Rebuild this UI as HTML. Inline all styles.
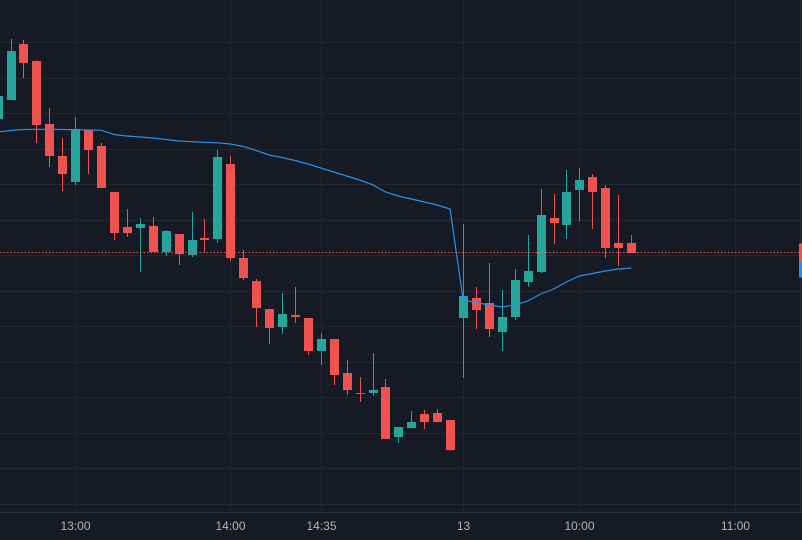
<!DOCTYPE html>
<html><head><meta charset="utf-8"><style>
html,body{margin:0;padding:0;background:#161a25;width:802px;height:540px;overflow:hidden}
svg{display:block}
text{font-family:"Liberation Sans",sans-serif;font-size:12px;fill:#b2b5be}
</style></head><body>
<svg id="chart" width="802" height="540" viewBox="0 0 802 540" xmlns="http://www.w3.org/2000/svg">
<rect x="0" y="0" width="802" height="540" fill="#161a25"/>
<g id="grid"></g>
<g id="candles"></g>
<g id="xaxis"></g>
<g id="ma"></g>
</svg>
<script>
const startIndex = -1;
const opens  = [421,440,496,479,416,384,358,410,394,348,313,312,314,288,306,285,302,301,376,282,259,231,213,225,222,189,201,167,147,147,153,103,112,126,127,120,222,242,237,208,223,258,268,322,315,350,363,352,297,297];
const highs  = [450,501,500,480,432,402,423,410,397,348,331,322,323,310,306,328,321,390,384,290,261,231,247,253,222,207,201,180,163,187,161,103,129,130,131,120,316,253,277,250,271,305,351,346,370,372,366,355,345,305];
const lows   = [421,440,462,397,373,349,355,366,352,300,303,268,288,284,275,283,288,297,279,260,213,196,206,217,185,175,155,145,138,144,101,97,112,111,118,89,162,211,203,189,220,253,267,296,301,319,311,282,274,287];
const closes = [444,489,477,415,384,366,411,390,352,307,307,316,288,309,286,300,300,383,282,262,232,212,226,223,189,201,165,150,146,150,101,113,118,118,118,90,244,230,211,223,260,269,325,317,348,360,348,292,292,287];
const maValues = [408,409.5,410.5,410.7,410.7,410.5,410.3,410,409.8,405.5,404,403,402,400.5,399,398.3,397.7,397.2,396,393.5,389.5,385,382.5,379.5,376,372,368,364,360,355.3,348,344,341,338,335,331,240,237.5,235,233,235,239,246,251,258,264,266.5,269,271,272];
const timeLabels = ["13:00","14:00","14:35","13","10:00","11:00"];
const timeLabelIdx = [5,17,24,35,44,56];

const NS="http://www.w3.org/2000/svg";
const xScale = i => 10.5 + 12.93*i;
const yScale = v => 540 - v;
function mk(tag, attrs, parent){const e=document.createElementNS(NS,tag);for(const k in attrs)e.setAttribute(k,attrs[k]);parent.appendChild(e);return e;}

const grid=document.getElementById('grid');
for(let k=0;k<14;k++){
  const y=Math.round(42+35.5*k)+0.5;
  const l=mk('line',{x1:0,x2:800,y1:y,y2:y,stroke:'#232632','stroke-width':1},grid);
  
  
}
timeLabelIdx.forEach(i=>{
  const x=Math.round(xScale(i))+0.5;
  const l=mk('line',{x1:x,x2:x,y1:0,y2:512,stroke:'#232632','stroke-width':1},grid);
  
  
});

const cg=document.getElementById('candles');
for(let j=0;j<opens.length;j++){
  const i=startIndex+j;
  const o=opens[j],h=highs[j],l=lows[j],c=closes[j];
  const up=c>=o;const col=up?'#26a69a':'#ef5350';
  const cx=Math.round(xScale(i));
  const g=mk('g',{},cg);
  
  
  mk('line',{x1:cx+0.5,x2:cx+0.5,y1:yScale(h),y2:yScale(l),stroke:col,'stroke-width':1},g);
  const top=yScale(Math.max(o,c)),bot=yScale(Math.min(o,c));
  mk('rect',{x:cx-4,y:top,width:9,height:Math.max(1,bot-top),fill:col},g);
}

const xa=document.getElementById('xaxis');
const ax=mk('line',{x1:0,x2:802,y1:512.5,y2:512.5,stroke:'#2a2e39','stroke-width':1},xa);


const bl=mk('line',{x1:800.5,x2:800.5,y1:0,y2:512,stroke:'#2a2e39','stroke-width':1},xa);


timeLabels.forEach((t,k)=>{
  const tx=mk('text',{x:Math.round(xScale(timeLabelIdx[k]))+0.5,y:530,'text-anchor':'middle'},xa);
  tx.textContent=t;
  
  
});

const mg=document.getElementById('ma');
let d='';
maValues.forEach((v,j)=>{d+=(j?'L':'M')+xScale(startIndex+j).toFixed(1)+' '+yScale(v).toFixed(1);});
const p=mk('path',{d:d,fill:'none',stroke:'#2a8fe8','stroke-width':1.2},mg);


const lastY=Math.round(yScale(closes[closes.length-1]))-0.5;
const pl=mk('line',{x1:0,x2:800,y1:lastY,y2:lastY,stroke:'#ef5350','stroke-width':1,'stroke-dasharray':'1.5 2'},mg);


const r1=mk('rect',{x:799,y:lastY-9,width:3,height:18,fill:'#ef5350'},mg);


const r2=mk('rect',{x:799,y:lastY+9,width:3,height:16,fill:'#2a8fe8'},mg);


</script>
</body></html>
